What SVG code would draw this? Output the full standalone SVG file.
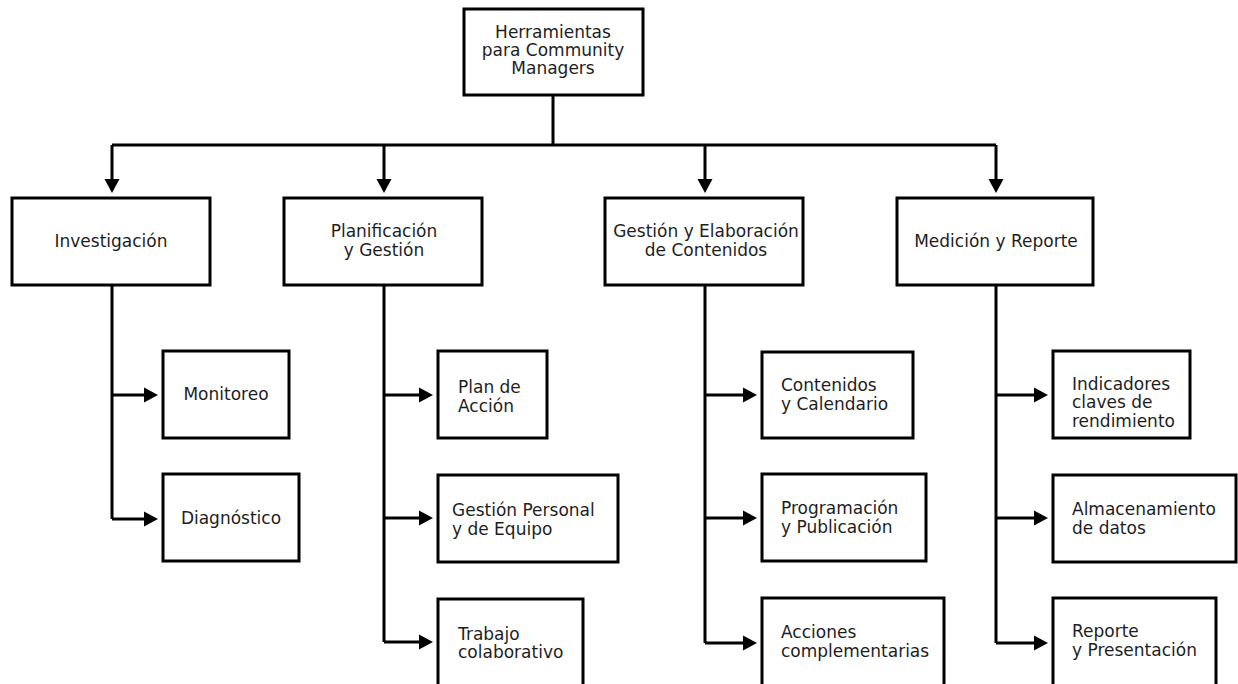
<svg xmlns="http://www.w3.org/2000/svg" width="1238" height="684" viewBox="0 0 1238 684">
<style>
rect{fill:#fff;stroke:#000;stroke-width:3}
text{font-family:"DejaVu Sans",sans-serif;font-size:17px;fill:#1e1e1e}
.c{text-anchor:middle}
.ln{fill:none;stroke:#000;stroke-width:3}
</style>
<defs>
<marker id="ah" markerUnits="userSpaceOnUse" markerWidth="16" markerHeight="18" refX="0" refY="7.5" orient="auto" viewBox="0 0 16 15">
<path d="M0,0 L14,7.5 L0,15 z" fill="#000"/>
</marker>
</defs>
<rect x="0" y="0" width="1238" height="684" style="stroke:none"/>
<g id="connectors">
<path class="ln" d="M553,95 V145"/>
<path class="ln" d="M112,145 H996"/>
<path class="ln" d="M112,145 V179" marker-end="url(#ah)"/>
<path class="ln" d="M384,145 V179" marker-end="url(#ah)"/>
<path class="ln" d="M705,145 V179" marker-end="url(#ah)"/>
<path class="ln" d="M996,145 V179" marker-end="url(#ah)"/>
<path class="ln" d="M112,285 V519"/>
<path class="ln" d="M112,395 H144" marker-end="url(#ah)"/>
<path class="ln" d="M112,519 H144" marker-end="url(#ah)"/>
<path class="ln" d="M384,285 V642"/>
<path class="ln" d="M384,395 H419" marker-end="url(#ah)"/>
<path class="ln" d="M384,518 H419" marker-end="url(#ah)"/>
<path class="ln" d="M384,642 H419" marker-end="url(#ah)"/>
<path class="ln" d="M705,285 V643"/>
<path class="ln" d="M705,395 H743" marker-end="url(#ah)"/>
<path class="ln" d="M705,518 H743" marker-end="url(#ah)"/>
<path class="ln" d="M705,643 H743" marker-end="url(#ah)"/>
<path class="ln" d="M996,285 V643"/>
<path class="ln" d="M996,395 H1034" marker-end="url(#ah)"/>
<path class="ln" d="M996,518 H1034" marker-end="url(#ah)"/>
<path class="ln" d="M996,643 H1034" marker-end="url(#ah)"/>
</g>
<g id="root">
<rect x="464" y="9" width="179" height="86"/>
<text class="c" x="553" y="38">Herramientas</text>
<text class="c" x="553" y="56">para Community</text>
<text class="c" x="553" y="74">Managers</text>
</g>
<g id="investigacion">
<rect x="12" y="198" width="198" height="87"/>
<text class="c" x="111" y="247">Investigación</text>
</g>
<g id="planificacion">
<rect x="284" y="198" width="198" height="87"/>
<text class="c" x="384" y="237">Planificación</text>
<text class="c" x="384" y="256">y Gestión</text>
</g>
<g id="gestion-contenidos">
<rect x="605" y="198" width="198" height="87"/>
<text class="c" x="706" y="237">Gestión y Elaboración</text>
<text class="c" x="706" y="256">de Contenidos</text>
</g>
<g id="medicion">
<rect x="897" y="198" width="196" height="87"/>
<text class="c" x="996" y="247">Medición y Reporte</text>
</g>
<g id="monitoreo">
<rect x="163" y="351" width="126" height="87"/>
<text class="c" x="226" y="400">Monitoreo</text>
</g>
<g id="diagnostico">
<rect x="163" y="474" width="136" height="87"/>
<text class="c" x="231" y="524">Diagnóstico</text>
</g>
<g id="plan-accion">
<rect x="438" y="351" width="109" height="87"/>
<text x="458" y="393">Plan de</text>
<text x="458" y="412">Acción</text>
</g>
<g id="gestion-personal">
<rect x="438" y="475" width="180" height="87"/>
<text x="452" y="516">Gestión Personal</text>
<text x="452" y="535">y de Equipo</text>
</g>
<g id="trabajo">
<rect x="438" y="599" width="145" height="100"/>
<text x="458" y="640">Trabajo</text>
<text x="458" y="658">colaborativo</text>
</g>
<g id="contenidos">
<rect x="762" y="352" width="151" height="86"/>
<text x="781" y="391">Contenidos</text>
<text x="781" y="410">y Calendario</text>
</g>
<g id="programacion">
<rect x="762" y="474" width="164" height="87"/>
<text x="781" y="514">Programación</text>
<text x="781" y="533">y Publicación</text>
</g>
<g id="acciones">
<rect x="762" y="598" width="182" height="100"/>
<text x="781" y="638">Acciones</text>
<text x="781" y="657">complementarias</text>
</g>
<g id="indicadores">
<rect x="1053" y="351" width="137" height="87"/>
<text x="1072" y="390">Indicadores</text>
<text x="1072" y="408">claves de</text>
<text x="1072" y="427">rendimiento</text>
</g>
<g id="almacenamiento">
<rect x="1053" y="475" width="183" height="87"/>
<text x="1072" y="515">Almacenamiento</text>
<text x="1072" y="534">de datos</text>
</g>
<g id="reporte">
<rect x="1053" y="598" width="163" height="100"/>
<text x="1072" y="637">Reporte</text>
<text x="1072" y="656">y Presentación</text>
</g>
</svg>
